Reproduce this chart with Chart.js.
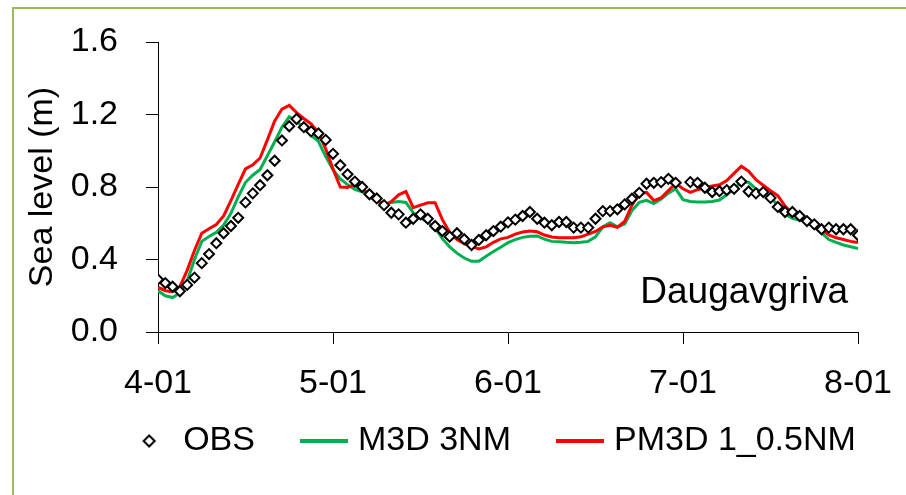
<!DOCTYPE html>
<html>
<head>
<meta charset="utf-8">
<script src="https://cdn.jsdelivr.net/npm/chart.js@4.4.1/dist/chart.umd.min.js"></script>
<style>
  html, body { margin: 0; padding: 0; background: #fff; }
  #wrap { position: relative; width: 906px; height: 495px; overflow: hidden; }
  #frame { position: absolute; left: 12px; top: 7px; width: 1000px; height: 600px;
           border-left: 2px solid #9bbb59; border-top: 2px solid #9bbb59; }
  #chart { position: absolute; left: 0; top: 0; }
</style>
</head>
<body>
<div id="wrap">
  <div id="frame"></div>
  <canvas id="chart" width="906" height="495"></canvas>
</div>
<script>
// ── Datos (nivel del mar horario, 4-01 .. 8-01) ──────
const hours = Array.from({ length: 97 }, (_, i) => i);
const tickLabels = ['4-01', '5-01', '6-01', '7-01', '8-01'];
const seriesNames = ['OBS', 'M3D 3NM', 'PM3D 1_0.5NM'];

const obs = [0.29, 0.27, 0.25, 0.225, 0.26, 0.30, 0.38, 0.43, 0.49, 0.545,
  0.585, 0.63, 0.715, 0.765, 0.81, 0.865, 0.945, 1.057, 1.135, 1.175,
  1.13, 1.107, 1.095, 1.06, 0.983, 0.92, 0.87, 0.83, 0.80, 0.76,
  0.737, 0.70, 0.658, 0.649, 0.603, 0.625, 0.649, 0.625, 0.585, 0.557,
  0.526, 0.545, 0.512, 0.48, 0.508, 0.534, 0.557, 0.581, 0.605, 0.62,
  0.64, 0.662, 0.625, 0.603, 0.589, 0.607, 0.607, 0.576, 0.576, 0.576,
  0.625, 0.667, 0.667, 0.677, 0.704, 0.735, 0.768, 0.818, 0.823, 0.827,
  0.845, 0.823, null, 0.827, 0.823, 0.796, 0.772, 0.777, 0.783, 0.79,
  0.83, 0.775, 0.765, 0.772, 0.74, 0.69, 0.662, 0.662, 0.64, 0.612,
  0.594, 0.567, 0.576, 0.567, 0.567, 0.567, 0.534];

const m3d = [0.227, 0.20, 0.19, 0.215, 0.28, 0.40, 0.50, 0.527, 0.55, 0.59,
  0.655, 0.745, 0.826, 0.865, 0.897, 0.972, 1.05, 1.13, 1.188, 1.164,
  1.123, 1.085, 1.052, 0.968, 0.895, 0.845, 0.813, 0.787, 0.774, 0.756,
  0.72, 0.705, 0.714, 0.72, 0.715, 0.658, 0.63, 0.605, 0.575, 0.515,
  0.47, 0.435, 0.408, 0.39, 0.39, 0.418, 0.444, 0.468, 0.493, 0.51,
  0.522, 0.528, 0.53, 0.512, 0.50, 0.498, 0.495, 0.493, 0.495, 0.50,
  0.525, 0.58, 0.603, 0.58, 0.595, 0.67, 0.715, 0.726, 0.708, 0.733,
  0.766, 0.79, 0.73, 0.72, 0.717, 0.717, 0.72, 0.728, 0.757, 0.79,
  0.828, 0.826, 0.79, 0.765, 0.742, 0.70, 0.65, 0.627, 0.617, 0.606,
  0.578, 0.547, 0.51, 0.495, 0.48, 0.47, 0.46];

const pm3d = [0.247, 0.228, 0.222, 0.25, 0.34, 0.45, 0.545, 0.57, 0.593, 0.64,
  0.725, 0.815, 0.90, 0.922, 0.96, 1.06, 1.165, 1.23, 1.25, 1.21,
  1.178, 1.148, 1.10, 1.01, 0.90, 0.80, 0.798, 0.814, 0.788, 0.762,
  0.735, 0.70, 0.72, 0.757, 0.775, 0.686, 0.70, 0.713, 0.713, 0.62,
  0.55, 0.51, 0.488, 0.472, 0.458, 0.47, 0.495, 0.514, 0.522, 0.54,
  0.552, 0.557, 0.553, 0.535, 0.524, 0.52, 0.52, 0.52, 0.525, 0.54,
  0.555, 0.58, 0.589, 0.578, 0.61, 0.70, 0.765, 0.77, 0.725, 0.74,
  0.78, 0.82, 0.79, 0.77, 0.785, 0.798, 0.805, 0.812, 0.835, 0.875,
  0.915, 0.887, 0.84, 0.81, 0.78, 0.752, 0.695, 0.655, 0.63, 0.614,
  0.59, 0.565, 0.535, 0.52, 0.51, 0.50, 0.493];

const FONT = "'Liberation Sans', Arial, sans-serif";

// ── Rombo para la leyenda ────────────────────────────
function diamondIcon() {
  const c = document.createElement('canvas');
  c.width = 16; c.height = 16;
  const g = c.getContext('2d');
  g.beginPath();
  g.moveTo(8, 2.5); g.lineTo(13.5, 8); g.lineTo(8, 13.5); g.lineTo(2.5, 8); g.closePath();
  g.fillStyle = '#fff'; g.fill();
  g.lineWidth = 2; g.strokeStyle = '#000'; g.stroke();
  return c;
}
const obsIcon = diamondIcon();

const pts = arr => hours.map((h, i) => ({ x: h, y: arr[i] }));

// ── Etiqueta de estación + leyenda corrida ───────────
const extras = {
  id: 'extras',
  beforeDraw(chart) {
    // la leyenda del original arranca bajo el eje Y y sube hacia las etiquetas
    const lg = chart.legend;
    if (!lg) return;
    const h = lg.bottom - lg.top;
    lg.left = 38; lg.right = 950;
    lg.top = 372; lg.bottom = 372 + h;
  },
  afterDatasetsDraw(chart) {
    const { ctx, chartArea } = chart;
    ctx.save();
    ctx.font = `37px ${FONT}`;
    ctx.fillStyle = '#000';
    ctx.textAlign = 'right';
    ctx.textBaseline = 'alphabetic';
    ctx.fillText('Daugavgriva', chartArea.right - 10, 303);
    ctx.restore();
  }
};

new Chart(document.getElementById('chart'), {
  type: 'line',
  data: {
    datasets: [
      {
        label: seriesNames[0], data: pts(obs), showLine: false, order: 0,
        pointStyle: 'rectRot', pointRadius: 5, pointBorderWidth: 2,
        pointBorderColor: '#000', pointBackgroundColor: '#fff'
      },
      {
        label: seriesNames[1], data: pts(m3d), order: 2,
        borderColor: '#00b050', borderWidth: 3, pointRadius: 0, tension: 0
      },
      {
        label: seriesNames[2], data: pts(pm3d), order: 1,
        borderColor: '#ff0000', borderWidth: 3, pointRadius: 0, tension: 0
      }
    ]
  },
  options: {
    responsive: false, animation: false,
    layout: { autoPadding: false, padding: { left: 0, right: 48, top: 42, bottom: 0 } },
    plugins: {
      tooltip: { enabled: false },
      legend: {
        position: 'bottom',
        labels: {
          usePointStyle: true, padding: 52, color: '#000',
          font: { family: FONT, size: 34 },
          generateLabels: chart => chart.data.datasets.map((d, i) => ({
            text: d.label, datasetIndex: i,
            pointStyle: i === 0 ? obsIcon : 'line',
            strokeStyle: d.borderColor || '#000', fillStyle: d.borderColor || '#000',
            lineWidth: 4, hidden: false, fontColor: '#000'
          }))
        }
      }
    },
    scales: {
      x: {
        type: 'linear', min: 0, max: 96,
        afterFit: s => { s.height = 67; s.paddingLeft = 0; s.paddingRight = 0; },
        grid: { drawOnChartArea: false, drawTicks: true, tickLength: 12, color: '#000' },
        border: { color: '#000', width: 1 },
        ticks: {
          stepSize: 24, padding: 19, color: '#000', maxRotation: 0, minRotation: 0,
          autoSkip: false, font: { family: FONT, size: 34 },
          callback: v => tickLabels[Math.round(v / 24)] || ''
        }
      },
      y: {
        min: 0, max: 1.6,
        afterFit: s => { s.width = 158; s.paddingTop = 0; s.paddingBottom = 0; },
        grid: { drawOnChartArea: false, drawTicks: true, tickLength: 12, color: '#000' },
        border: { color: '#000', width: 1 },
        title: {
          display: true, text: 'Sea level (m)', color: '#000',
          font: { family: FONT, size: 34 }, padding: { top: 22, bottom: 0 }
        },
        ticks: {
          stepSize: 0.4, padding: 28, color: '#000',
          font: { family: FONT, size: 34 },
          callback: v => v.toFixed(1)
        }
      }
    }
  },
  plugins: [extras]
});
</script>
</body>
</html>
